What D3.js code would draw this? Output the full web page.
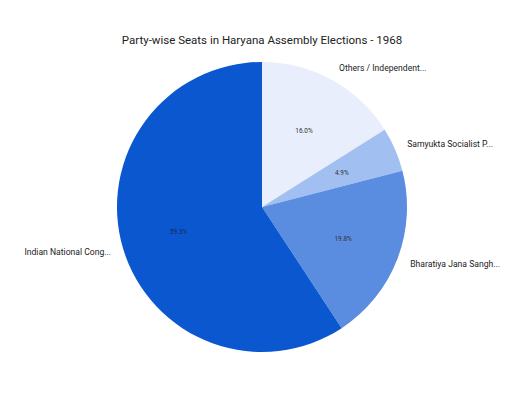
<!DOCTYPE html>
<html>
<head>
<meta charset="utf-8">
<script src="https://cdn.jsdelivr.net/npm/d3@7"></script>
<style>
  body { margin: 0; background: #fff; }
  svg text { font-family: Roboto, "Open Sans", sans-serif; }
</style>
</head>
<body>
<svg id="chart" width="512" height="410"></svg>
<script>
// 데이터
const parties = ["Others / Independent...", "Samyukta Socialist P...", "Bharatiya Jana Sangh...", "Indian National Cong..."];
const seats = [13, 4, 16, 48];
const percentLabels = ["16.0%", "4.9%", "19.8%", "59.3%"];
const colors = ["#e8eefb", "#a1bff0", "#5a8de0", "#0b57d0"];

// 레이블 위치 보정 (레이아웃 전용)
const labelNudge = [[7, -12], [12, -6], [13, 5], [-12, 3]];

const width = 512, height = 410;
const cx = 262, cy = 207, radius = 145;

const svg = d3.select("#chart");

svg.append("text")
    .attr("x", cx)
    .attr("y", 44)
    .attr("text-anchor", "middle")
    .attr("font-size", "11.5px")
    .attr("fill", "#222")
    .text("Party-wise Seats in Haryana Assembly Elections - 1968");

const pie = d3.pie().sort(null).value(d => d)(seats);
const arc = d3.arc().innerRadius(0).outerRadius(radius);
const inner = d3.arc().innerRadius(radius * 0.6).outerRadius(radius * 0.6);
const edge = d3.arc().innerRadius(radius).outerRadius(radius);

const g = svg.append("g").attr("transform", `translate(${cx},${cy})`);

g.selectAll("path")
    .data(pie)
    .enter()
    .append("path")
    .attr("d", arc)
    .attr("fill", (d, i) => colors[i]);

// 퍼센트 레이블
g.selectAll(".pct")
    .data(pie)
    .enter()
    .append("text")
    .attr("class", "pct")
    .attr("transform", d => `translate(${inner.centroid(d)})`)
    .attr("text-anchor", "middle")
    .attr("dy", "0.35em")
    .attr("font-size", "6.5px")
    .attr("fill", (d, i) => i === 3 ? "#1a2a55" : "#333")
    .text((d, i) => percentLabels[i]);

// 바깥 레이블
g.selectAll(".lbl")
    .data(pie)
    .enter()
    .append("text")
    .attr("class", "lbl")
    .attr("transform", (d, i) => {
        const [x, y] = edge.centroid(d);
        return `translate(${x + labelNudge[i][0]},${y + labelNudge[i][1]})`;
    })
    .attr("text-anchor", d => (d.startAngle + d.endAngle) / 2 < Math.PI ? "start" : "end")
    .attr("dy", "0.35em")
    .attr("font-size", "8.6px")
    .attr("fill", "#222")
    .text((d, i) => parties[i]);
</script>
</body>
</html>
